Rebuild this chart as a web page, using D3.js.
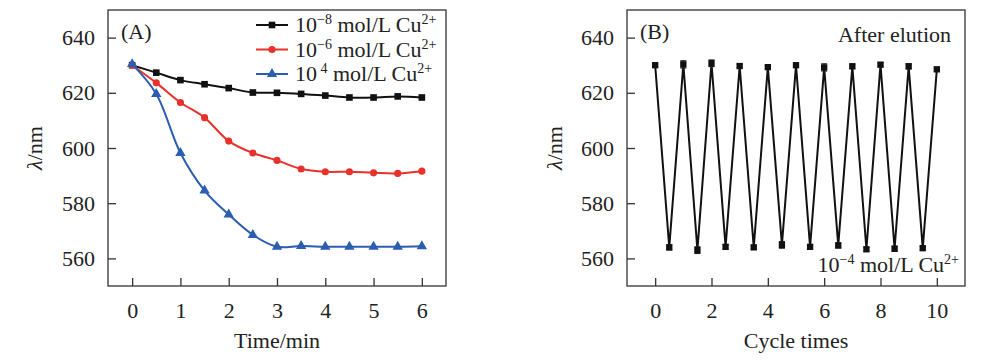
<!DOCTYPE html>
<html>
<head>
<meta charset="utf-8">
<script src="https://cdn.jsdelivr.net/npm/d3@7"></script>
<style>
  body { margin: 0; background: #fff; }
  text { font-family: "Liberation Serif", "DejaVu Serif", serif; fill: #222; }
</style>
</head>
<body>
<div id="chart"></div>
<script>
// dados do painel A (tempo em min, lambda em nm)
const timeMin = [0, 0.5, 1, 1.5, 2, 2.5, 3, 3.5, 4, 4.5, 5, 5.5, 6];
const cu8 = [630.0, 627.3, 624.6, 623.1, 621.7, 620.1, 620.0, 619.6, 619.0, 618.3, 618.3, 618.7, 618.3];
const cu6 = [630.0, 623.6, 616.5, 611.0, 602.5, 598.2, 595.5, 592.4, 591.4, 591.4, 591.0, 590.8, 591.6];
const cu4 = [630.4, 619.6, 598.2, 584.6, 575.9, 568.5, 564.2, 564.5, 564.2, 564.2, 564.2, 564.2, 564.4];
const seriesNames = ["−8", "−6", " 4"];

// dados do painel B (ciclos)
const cycles = [0, 0.5, 1, 1.5, 2, 2.5, 3, 3.5, 4, 4.5, 5, 5.5, 6, 6.5, 7, 7.5, 8, 8.5, 9, 9.5, 10];
const cycleLambda = [630.0, 564.0, 630.3, 563.0, 630.7, 564.2, 629.7, 564.0, 629.3, 564.9,
  630.0, 564.2, 629.2, 564.7, 629.6, 563.3, 630.2, 563.5, 629.6, 563.7, 628.5];
const cycleErr = [0.8, 0.9, 1.3, 1.2, 1.2, 0.8, 0.7, 0.7, 0.6, 1.2,
  0.6, 0.8, 1.3, 0.9, 0.8, 0.7, 0.7, 0.9, 0.9, 0.6, 0.7];

const yTicks = [560, 580, 600, 620, 640];
const xTicksA = [0, 1, 2, 3, 4, 5, 6];
const xTicksB = [0, 2, 4, 6, 8, 10];

const W = 983, H = 363;
const plotTop = 10, plotBottom = 286;
const fs = 22;
const serif = "'Liberation Serif', 'DejaVu Serif', serif";

const svg = d3.select("#chart").append("svg")
    .attr("width", W)
    .attr("height", H)
    .attr("font-family", serif);
svg.append("rect").attr("width", W).attr("height", H).attr("fill", "#fff");

const y = d3.scaleLinear().domain([550, 650]).range([plotBottom, plotTop]);

// desenha moldura, eixos e titulos de um painel
function panel(x, xTicks, xTitle, titleX, tag) {
    const [x0, x1] = x.range();
    const g = svg.append("g");

    g.append("rect")
        .attr("x", x0).attr("y", plotTop)
        .attr("width", x1 - x0).attr("height", plotBottom - plotTop)
        .attr("fill", "none").attr("stroke", "#333").attr("stroke-width", 1.3);

    const xa = g.append("g")
        .attr("transform", `translate(0,${plotBottom})`)
        .call(d3.axisBottom(x).tickValues(xTicks).tickFormat(d3.format("d"))
            .tickSizeInner(-8).tickSizeOuter(0).tickPadding(16));
    const ya = g.append("g")
        .attr("transform", `translate(${x0},0)`)
        .call(d3.axisLeft(y).tickValues(yTicks).tickFormat(d3.format("d"))
            .tickSizeInner(-8).tickSizeOuter(0).tickPadding(13));

    [xa, ya].forEach(a => {
        a.attr("font-family", serif).attr("font-size", fs);
        a.select(".domain").remove();
        a.selectAll("line").attr("stroke", "#333").attr("stroke-width", 1.3);
        a.selectAll("text").attr("fill", "#222");
    });
    xa.selectAll("text").attr("dy", "0.72em");

    g.append("text")
        .attr("x", (x0 + x1) / 2).attr("y", 348)
        .attr("text-anchor", "middle").attr("font-size", fs)
        .text(xTitle);

    const yl = g.append("text")
        .attr("transform", `translate(${titleX},${(plotTop + plotBottom) / 2}) rotate(-90)`)
        .attr("text-anchor", "middle").attr("font-size", fs);
    yl.append("tspan").attr("font-style", "italic").text("λ");
    yl.append("tspan").text("/nm");

    g.append("text")
        .attr("x", x0 + 13).attr("y", 39)
        .attr("font-size", fs)
        .text(tag);
    return g;
}

// texto "10^e mol/L Cu^2+"
function concText(sel, exp) {
    sel.append("tspan").text("10");
    sel.append("tspan").attr("dy", -8).attr("font-size", 14).text(exp);
    sel.append("tspan").attr("dy", 8).text(" mol/L Cu");
    sel.append("tspan").attr("dy", -8).attr("font-size", 14).text("2+");
}

// ---- Painel A ----
const xA = d3.scaleLinear().domain([-0.5, 6.5]).range([108, 446]);
const gA = panel(xA, xTicksA, "Time/min", 42, "(A)");

const seriesA = [
    { vals: cu8, color: "#111111", shape: d3.symbolSquare, size: 44 },
    { vals: cu6, color: "#e8312b", shape: d3.symbolCircle, size: 40 },
    { vals: cu4, color: "#2b5db0", shape: d3.symbolTriangle, size: 46 }
];

const lineA = d3.line().x((d, i) => xA(timeMin[i])).y(d => y(d)).curve(d3.curveCatmullRom.alpha(0.5));

seriesA.forEach(s => {
    gA.append("path")
        .attr("d", lineA(s.vals))
        .attr("fill", "none").attr("stroke", s.color).attr("stroke-width", 2);
    gA.selectAll(null)
        .data(s.vals)
        .enter().append("path")
        .attr("transform", (d, i) => `translate(${xA(timeMin[i])},${y(d)})`)
        .attr("d", d3.symbol().type(s.shape).size(s.size))
        .attr("fill", s.color);
});

// legenda
seriesA.forEach((s, i) => {
    const ly = 25 + i * 24.5;
    gA.append("line")
        .attr("x1", 256).attr("x2", 288).attr("y1", ly).attr("y2", ly)
        .attr("stroke", s.color).attr("stroke-width", 2);
    gA.append("path")
        .attr("transform", `translate(272,${ly})`)
        .attr("d", d3.symbol().type(s.shape).size(s.size))
        .attr("fill", s.color);
    const t = gA.append("text")
        .attr("x", 295).attr("y", ly + 7)
        .attr("font-size", fs);
    concText(t, seriesNames[i]);
});

// ---- Painel B ----
const xB = d3.scaleLinear().domain([-1, 11]).range([627, 965]);
const gB = panel(xB, xTicksB, "Cycle times", 562, "(B)");

const lineB = d3.line().x((d, i) => xB(cycles[i])).y(d => y(d));
gB.append("path")
    .attr("d", lineB(cycleLambda))
    .attr("fill", "none").attr("stroke", "#111").attr("stroke-width", 2);

// barras de erro
const eb = gB.selectAll(".err")
    .data(cycleLambda)
    .enter().append("g")
    .attr("class", "err")
    .attr("stroke", "#222").attr("stroke-width", 1.2);
eb.append("line")
    .attr("x1", (d, i) => xB(cycles[i])).attr("x2", (d, i) => xB(cycles[i]))
    .attr("y1", (d, i) => y(d + cycleErr[i])).attr("y2", (d, i) => y(d - cycleErr[i]));
eb.append("line")
    .attr("x1", (d, i) => xB(cycles[i]) - 3).attr("x2", (d, i) => xB(cycles[i]) + 3)
    .attr("y1", (d, i) => y(d + cycleErr[i])).attr("y2", (d, i) => y(d + cycleErr[i]));
eb.append("line")
    .attr("x1", (d, i) => xB(cycles[i]) - 3).attr("x2", (d, i) => xB(cycles[i]) + 3)
    .attr("y1", (d, i) => y(d - cycleErr[i])).attr("y2", (d, i) => y(d - cycleErr[i]));

gB.selectAll(".pt")
    .data(cycleLambda)
    .enter().append("path")
    .attr("class", "pt")
    .attr("transform", (d, i) => `translate(${xB(cycles[i])},${y(d)})`)
    .attr("d", d3.symbol().type(d3.symbolSquare).size(40))
    .attr("fill", "#111");

gB.append("text")
    .attr("x", 951).attr("y", 42)
    .attr("text-anchor", "end").attr("font-size", fs)
    .text("After elution");

const tB = gB.append("text")
    .attr("x", 959).attr("y", 272)
    .attr("text-anchor", "end").attr("font-size", fs);
concText(tB, "−4");
</script>
</body>
</html>
